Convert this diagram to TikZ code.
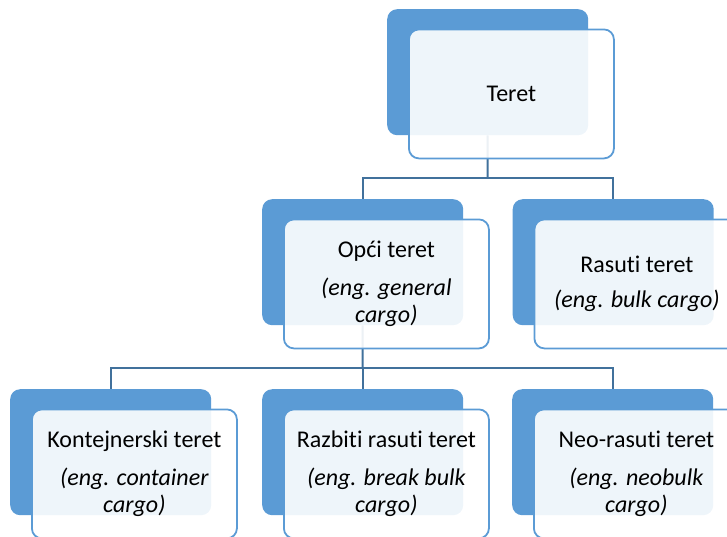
\documentclass[tikz,border=0pt]{standalone}
\usepackage{fontspec}
\setmainfont{Carlito}[Ligatures=NoCommon]
\definecolor{boxblue}{HTML}{5B9BD5}
\definecolor{connblue}{HTML}{41719C}
\begin{document}
\begin{tikzpicture}[x=1pt,y=-1pt,
  bluebox/.style={fill=boxblue, rounded corners=10pt, minimum width=201pt, minimum height=126pt, anchor=north west, inner sep=0pt},
  whitebox/.style={fill=white, fill opacity=0.9, text opacity=1, draw=boxblue, line width=1.8pt, rounded corners=10pt, minimum width=205pt, minimum height=129pt, anchor=north west, align=center, inner sep=2pt, font=\fontsize{24}{27}\selectfont, text=black},
  conn/.style={draw=connblue, line width=2pt}]
\useasboundingbox (0,0) rectangle (727,536);
\clip (0,0) rectangle (727,536);
% blue back boxes
\node[bluebox] (tB) at (387,9) {};
\node[bluebox] (oB) at (262,199) {};
\node[bluebox] (rB) at (512.5,199) {};
\node[bluebox] (kB) at (10,389) {};
\node[bluebox] (zB) at (262,389) {};
\node[bluebox] (nB) at (512,389) {};
% connectors
\coordinate (h1) at (487.5,178);
\coordinate (h2) at (362.5,368);
\draw[conn] (tB.south) -- (h1);
\draw[conn] (h1) -| (oB.north);
\draw[conn] (h1) -| (rB.north);
\draw[conn] (oB.south) -- (h2);
\draw[conn] (h2) -| (kB.north);
\draw[conn] (h2) -| (zB.north);
\draw[conn] (h2) -| (nB.north);
% front boxes
\node[whitebox] (t) at (408,28.5) {Teret};
\node[whitebox] (o) at (283,218.5) {Opći teret\\[11pt]\textit{(eng. general}\\\textit{cargo)}};
\node[whitebox] (r) at (533.5,218.5) {Rasuti teret\\[8pt]\textit{(eng. bulk cargo)}};
\node[whitebox] (k) at (31,408.5) {Kontejnerski teret\\[11pt]\textit{(eng. container}\\\textit{cargo)}};
\node[whitebox] (z) at (283,408.5) {Razbiti rasuti teret\\[11pt]\textit{(eng. break bulk}\\\textit{cargo)}};
\node[whitebox] (n) at (533,408.5) {Neo-rasuti teret\\[11pt]\textit{(eng. neobulk}\\\textit{cargo)}};
\end{tikzpicture}
\end{document}
